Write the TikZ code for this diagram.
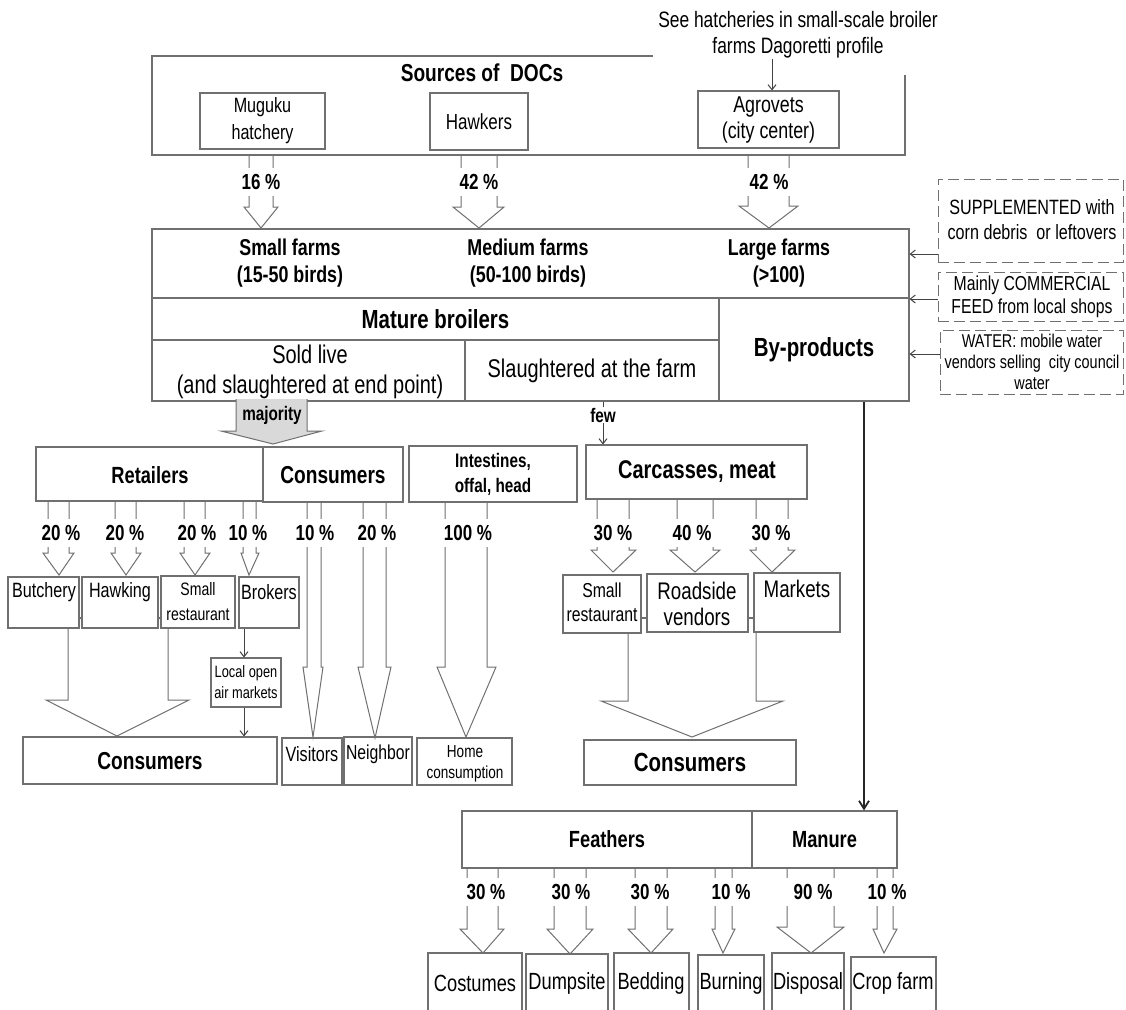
\documentclass[tikz,border=0pt]{standalone}
\usepackage{fontspec}
\setmainfont{Liberation Sans}[FakeStretch=0.78]
\usetikzlibrary{arrows.meta,fit}
\definecolor{lc}{HTML}{707070}
\definecolor{gf}{HTML}{D9D9D9}
\newcommand\fsz[2]{\fontsize{#1}{#2}\selectfont}
% block arrow: [opts]{shaft x1}{shaft x2}{head x1}{head x2}{y top}{y head}{y tip}{x tip}
\newcommand\farrow[9][]{\draw[barrow,#1] (#2,#6) -- (#2,#7) -- (#4,#7) -- (#9,#8) -- (#5,#7) -- (#3,#7) -- (#3,#6);}
\tikzset{
 bx/.style={draw=lc, line width=1.1pt, inner sep=0pt},
 dbx/.style={draw=lc, line width=0.9pt, dash pattern=on 11pt off 5pt, inner sep=0pt},
 barrow/.style={draw=lc, line width=1pt, line join=miter},
 tx/.style={inner sep=0pt, align=center, text=black},
 pct/.style={fill=white, inner xsep=1pt, inner ysep=0pt, minimum width=46pt, minimum height=28pt, font=\bfseries\fsz{21.8}{24}},
 sarr/.style={draw=lc!60!black, line width=1pt, -{Straight Barb[length=5pt,width=8pt]}},
 link/.style={draw=lc, line width=1.1pt},
}
\begin{document}
\begin{tikzpicture}[x=1pt,y=-1pt]
\fill[white] (0,0) rectangle (1126,1009);
\useasboundingbox (0,0) rectangle (1126,1009);

% ---------- Sources of DOCs ----------
\node[tx, font=\fsz{22.3}{26}] (note) at (798,35) {See hatcheries in small-scale broiler\\farms Dagoretti profile};
\coordinate (srcA) at (653,56);
\coordinate (srcB) at (152,56);
\coordinate (srcC) at (152,155);
\coordinate (srcD) at (905,155);
\coordinate (srcE) at (905,75);
\draw[link] (srcA) -- (srcB) -- (srcC) -- (srcD) -- (srcE);
\node[tx, font=\bfseries\fsz{24.5}{26}] (srct) at (482,73) {Sources of~ DOCs};
\node[bx, fit={(200,93) (325,149)}] (mug) {};
\node[tx, font=\fsz{20.7}{27}] (mugt) at (mug.center) {Muguku\\hatchery};
\node[bx, fit={(430,93) (528,150)}] (hwk) {};
\node[tx, font=\fsz{21.8}{26}] (hwkt) at (hwk.center) {Hawkers};
\node[bx, fit={(698,91) (839,148)}] (agro) {};
\node[tx, font=\fsz{22.9}{26}] (agrot) at (agro.center) {Agrovets\\(city center)};
\draw[sarr] (note.south -| 772,0) -- (agro.north -| 772,0);

\farrow{249}{273}{244}{278}{155}{207}{228}{261}
\farrow{461}{497}{453}{504}{155}{207}{228}{479}
\farrow{748}{789}{739}{798}{155}{206}{228}{769}
\node[pct] (p1) at (261,182) {16 \%};
\node[pct] (p2) at (479,182) {42 \%};
\node[pct] (p3) at (769,182) {42 \%};

% ---------- Farms ----------
\node[bx, fit={(152,229) (909,298)}] (farmrow) {};
\node[bx, fit={(152,298) (719,340)}] (mat) {};
\node[bx, fit={(152,340) (465,401)}] (sold) {};
\node[bx, fit={(465,340) (719,401)}] (slaught) {};
\node[bx, fit={(719,298) (909,401)}] (byp) {};
\node[tx, font=\bfseries\fsz{22.9}{27}] (smf) at (290,263) {Small farms\\(15-50 birds)};
\node[tx, font=\bfseries\fsz{22.9}{27}] (medf) at (528,263) {Medium farms\\(50-100 birds)};
\node[tx, font=\bfseries\fsz{22.9}{27}] (lgf) at (779,263) {Large farms\\(>100)};
\node[tx, font=\bfseries\fsz{26.2}{28}] (matt) at (mat.center) {Mature broilers};
\node[tx, font=\fsz{25.6}{30}] (soldt) at (310,372) {Sold live\\(and slaughtered at end point)};
\node[tx, font=\fsz{25.6}{28}] (slaughtt) at (slaught.center) {Slaughtered at the farm};
\node[tx, font=\bfseries\fsz{26.2}{28}] (bypt) at (byp.center) {By-products};

% ---------- Side inputs ----------
\node[dbx, fit={(938,179) (1123,262)}] (sup) {};
\node[tx, font=\fsz{20.7}{25}] (supt) at (1032,220) {SUPPLEMENTED with\\corn debris~ or leftovers};
\node[dbx, fit={(938,272) (1123,321)}] (comm) {};
\node[tx, font=\fsz{20.2}{23}] (commt) at (1032,297) {Mainly COMMERCIAL\\FEED from local shops};
\node[dbx, fit={(940,330) (1123,394)}] (water) {};
\node[tx, font=\fsz{18.5}{21}] (watert) at (1032,362) {WATER: mobile water\\vendors selling~ city council\\water};
\draw[sarr] (sup.west |- 0,254) -- (farmrow.east |- 0,254);
\draw[sarr] (comm.west |- 0,299) -- (farmrow.east |- 0,299);
\draw[sarr] (water.west |- 0,354) -- (byp.east |- 0,354);

% ---------- Majority / few ----------
\farrow[fill=gf]{236}{307}{221}{322}{399}{431}{444}{273}
\node[tx, font=\bfseries\fsz{19.6}{22}] (maj) at (272,415) {majority};

% ---------- Second level ----------
\node[bx, fit={(36,447) (263,501)}] (ret) {};
\node[tx, font=\bfseries\fsz{23.4}{26}] (rett) at (150,475) {Retailers};
\node[bx, fit={(263,447) (403,502)}] (cons1) {};
\node[tx, font=\bfseries\fsz{24.5}{26}] (cons1t) at (333,475) {Consumers};
\node[bx, fit={(409,446) (577,502)}] (intest) {};
\node[tx, font=\bfseries\fsz{19.6}{25}] (intestt) at (493,474) {Intestines,\\offal, head};
\node[bx, fit={(586,445) (807,499)}] (carc) {};
\node[tx, font=\bfseries\fsz{25.6}{26}] (carct) at (697,472) {Carcasses, meat};

\draw[sarr] (slaught.south -| 603,0) -- (carc.north -| 603,0);
\node[tx, fill=white, inner sep=1pt, font=\bfseries\fsz{19.6}{22}] (few) at (603,415) {few};

% retailer split
\farrow{48}{69}{43}{74}{501}{553}{575}{59}
\farrow{115}{136}{111}{141}{501}{553}{575}{126}
\farrow{184}{205}{180}{210}{501}{553}{575}{195}
\farrow{243}{256}{241}{259}{501}{553}{575}{249}
% consumer split
\farrow{307}{321}{303}{323}{502}{667}{737}{313}
\farrow{363}{386}{358}{391}{502}{667}{738}{375}
\farrow{445}{487}{437}{496}{502}{667}{737}{466}
% carcass split
\farrow{597}{629}{591}{636}{499}{550}{572}{613}
\farrow{677}{713}{670}{720}{499}{550}{572}{695}
\farrow{756}{788}{750}{795}{499}{550}{572}{772}

\node[pct] (q1) at (61,533) {20 \%};
\node[pct] (q2) at (125,533) {20 \%};
\node[pct] (q3) at (197,533) {20 \%};
\node[pct] (q4) at (248,533) {10 \%};
\node[pct] (q5) at (315,533) {10 \%};
\node[pct] (q6) at (377,533) {20 \%};
\node[pct, minimum width=50pt] (q7) at (468,533) {100 \%};
\node[pct] (q8) at (613,533) {30 \%};
\node[pct] (q9) at (692,533) {40 \%};
\node[pct] (q10) at (771,533) {30 \%};

% ---------- Retail outlets ----------
\node[bx, fit={(8,577) (79,628)}] (butch) {};
\node[tx, font=\fsz{20.7}{24}] (butcht) at (44,592) {Butchery};
\node[bx, fit={(82,577) (158,628)}] (hawk) {};
\node[tx, font=\fsz{20.7}{24}] (hawkt) at (120,592) {Hawking};
\node[bx, fit={(161,576) (235,628)}] (srest) {};
\node[tx, font=\fsz{18}{25}] (srestt) at (198,602) {Small\\restaurant};
\node[bx, fit={(239,577) (299,628)}] (brok) {};
\node[tx, font=\fsz{20.7}{24}] (brokt) at (269,592) {Brokers};
\draw[link] (butch.east |- 0,618) -- (hawk.west |- 0,618);
\draw[link] (hawk.east |- 0,618) -- (srest.west |- 0,618);

\draw[barrow] (butch.south -| 68,0) -- (68,700) -- (46,700) -- (117,736) -- (189,700) -- (168,700) -- (srest.south -| 168,0);

\node[bx, fit={(211,658) (281,707)}] (locm) {};
\node[tx, font=\fsz{16.4}{21}] (locmt) at (locm.center) {Local open\\air markets};
\draw[sarr] (brok.south -| 244,0) -- (locm.north -| 244,0);

\node[bx, fit={(23,737) (277,784)}] (cons2) {};
\node[tx, font=\bfseries\fsz{24.5}{26}] (cons2t) at (150,761) {Consumers};
\draw[sarr] (locm.south -| 244,0) -- (cons2.north -| 244,0);

\node[bx, fit={(282,738) (342,785)}] (vis) {};
\node[tx, font=\fsz{20.7}{24}] (vist) at (312,754) {Visitors};
\node[bx, fit={(344,737) (412,785)}] (neigh) {};
\node[tx, font=\fsz{20.2}{24}] (neight) at (378,754) {Neighbor};
\node[bx, fit={(417,738) (512,785)}] (home) {};
\node[tx, font=\fsz{17.4}{21}] (homet) at (465,764) {Home\\consumption};

% ---------- Carcass outlets ----------
\node[bx, fit={(563,575) (641,633)}] (csrest) {};
\node[tx, font=\fsz{20.2}{24}] (csrestt) at (602,602) {Small\\restaurant};
\node[bx, fit={(647,574) (748,632)}] (road) {};
\node[tx, font=\fsz{24}{26}] (roadt) at (697,604) {Roadside\\vendors};
\node[bx, fit={(754,573) (840,632)}] (mark) {};
\node[tx, font=\fsz{24}{26}] (markt) at (797,589) {Markets};
\draw[link] (csrest.east |- 0,618) -- (road.west |- 0,618);
\draw[link] (road.east |- 0,618) -- (mark.west |- 0,618);

\draw[barrow] (csrest.south -| 628,0) -- (628,701) -- (601,701) -- (692,737) -- (783,701) -- (756,701) -- (mark.south -| 756,0);

\node[bx, fit={(584,740) (796,785)}] (cons3) {};
\node[tx, font=\bfseries\fsz{26.2}{26}] (cons3t) at (690,762) {Consumers};

% ---------- By-products ----------
\node[bx, fit={(462,811) (752,868)}] (feath) {};
\node[tx, font=\bfseries\fsz{23.4}{26}] (featht) at (feath.center) {Feathers};
\node[bx, fit={(752,811) (897,868)}] (manure) {};
\node[tx, font=\bfseries\fsz{23.4}{26}] (manuret) at (manure.center) {Manure};
\draw[draw=black!85, line width=1.8pt, -{Straight Barb[length=8pt,width=10pt]}] (byp.south -| 864,0) -- (manure.north -| 864,0);

\farrow{467}{498}{460}{504}{868}{929}{953}{483}
\farrow{554}{586}{547}{593}{868}{929}{954}{570}
\farrow{635}{667}{628}{673}{868}{929}{953}{651}
\farrow{715}{732}{712}{735}{868}{929}{953}{723}
\farrow{787}{834}{777}{844}{868}{927}{953}{811}
\farrow{877}{893}{873}{897}{868}{929}{953}{884}
\node[pct] (r1) at (486,892) {30 \%};
\node[pct] (r2) at (571,892) {30 \%};
\node[pct] (r3) at (650,892) {30 \%};
\node[pct] (r4) at (731,892) {10 \%};
\node[pct, minimum width=56pt] (r5) at (813,892) {90 \%};
\node[pct] (r6) at (887,892) {10 \%};

\node[bx, fit={(428,953) (522,1015)}] (cost) {};
\node[tx, font=\fsz{23.4}{26}] (costt) at (475,983) {Costumes};
\node[bx, fit={(526,954) (608,1015)}] (dump) {};
\node[tx, font=\fsz{23.4}{26}] (dumpt) at (567,983) {Dumpsite};
\node[bx, fit={(614,953) (689,1015)}] (bed) {};
\node[tx, font=\fsz{23.4}{26}] (bedt) at (651,983) {Bedding};
\node[bx, fit={(698,955) (764,1015)}] (burn) {};
\node[tx, font=\fsz{23.4}{26}] (burnt) at (731,983) {Burning};
\node[bx, fit={(772,953) (844,1015)}] (disp) {};
\node[tx, font=\fsz{23.4}{26}] (dispt) at (808,983) {Disposal};
\node[bx, fit={(851,957) (936,1015)}] (crop) {};
\node[tx, font=\fsz{23.4}{26}] (cropt) at (893,983) {Crop farm};
\end{tikzpicture}
\end{document}
